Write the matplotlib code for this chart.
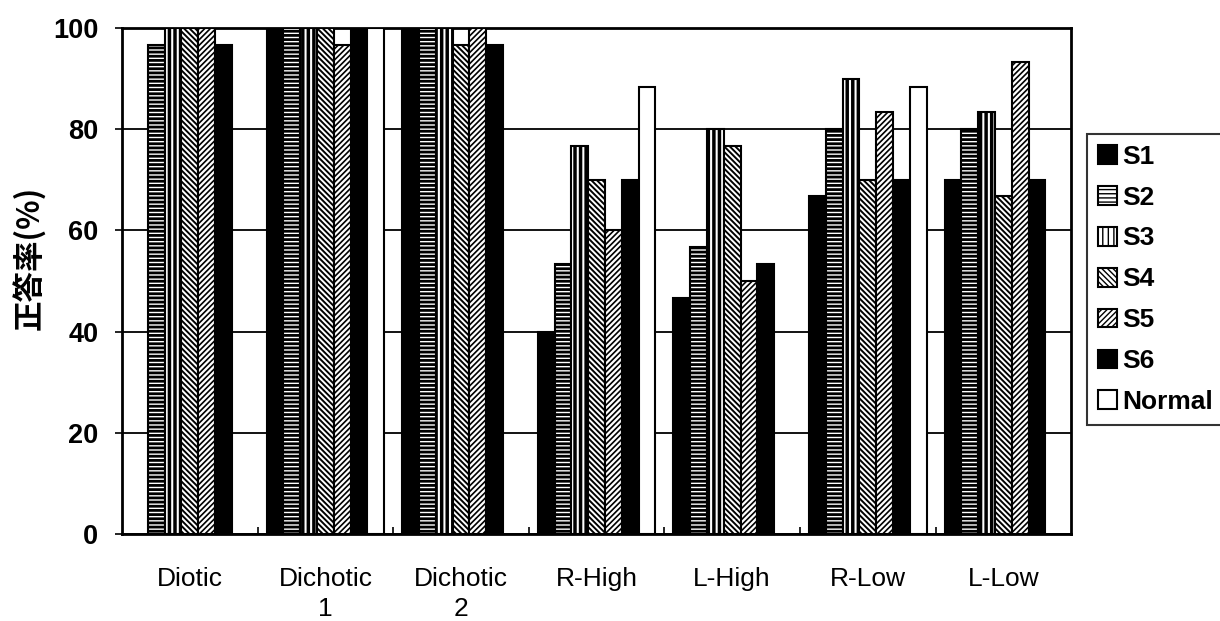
# -*- coding: utf-8 -*-

import numpy as np
import matplotlib
matplotlib.use("Agg")
import matplotlib.pyplot as plt

# correct-answer rate per condition, one list per listener (nan = not tested)
conditions = ["Diotic", "Dichotic\n1", "Dichotic\n2", "R-High", "L-High", "R-Low", "L-Low"]
subjects = ["S1", "S2", "S3", "S4", "S5", "S6", "Normal"]

s1 = [np.nan, 100, 100, 40.0, 46.7, 66.7, 70.0]
s2 = [96.7, 100, 100, 53.3, 56.7, 80.0, 80.0]
s3 = [100, 100, 100, 76.7, 80.0, 90.0, 83.3]
s4 = [100, 100, 96.7, 70.0, 76.7, 70.0, 66.7]
s5 = [100, 96.7, 100, 60.0, 50.0, 83.3, 93.3]
s6 = [96.7, 100, 96.7, 70.0, 53.3, 70.0, 70.0]
normal = [np.nan, 100, np.nan, 88.3, np.nan, 88.3, np.nan]

series = [s1, s2, s3, s4, s5, s6, normal]

# fill / hatch / hatch line width for each subject
styles = [
    ("black", "", 1.0),
    ("white", "----", 2.0),
    ("white", "|||", 2.5),
    ("white", "\\" * 6, 1.4),
    ("white", "/" * 6, 1.2),
    ("black", "", 1.0),
    ("white", "", 1.0),
]

tick_font = ["Liberation Sans", "DejaVu Sans"]
cat_font = ["Liberation Sans", "DejaVu Sans"]

fig = plt.figure(figsize=(12.2, 6.21), dpi=100)
ax = fig.add_axes([0.1, 0.14, 0.778, 0.815])

x = np.arange(len(conditions))
width = 0.124
handles = []
for i, (vals, (face, hatch, hlw)) in enumerate(zip(series, styles)):
    plt.rcParams["hatch.linewidth"] = hlw
    bars = ax.bar(x + (i - 3) * width, vals, width, color=face, edgecolor="black",
                  linewidth=1.5, hatch=hatch, label=subjects[i], zorder=3)
    handles.append(bars)

ax.set_xlim(-0.5, len(conditions) - 0.5)
ax.set_ylim(0, 100)
ax.set_yticks([0, 20, 40, 60, 80, 100])
ax.yaxis.grid(True, color="black", linewidth=1.3, zorder=0)
ax.set_axisbelow(True)

# group separators as small inward ticks, category names centred
ax.set_xticks(x[:-1] + 0.5)
ax.set_xticklabels([])
ax.tick_params(axis="x", which="major", direction="in", length=5, width=1.2)
ax.set_xticks(x, minor=True)
ax.set_xticklabels(conditions, minor=True, fontsize=19, family=cat_font, linespacing=1.3)
ax.tick_params(axis="x", which="minor", length=0, pad=24)

ax.tick_params(axis="y", direction="out", length=5, width=1.2, pad=12)
for lab in ax.get_yticklabels():
    lab.set_fontsize(19.5)
    lab.set_family(tick_font)
    lab.set_fontweight("bold")

for sp in ax.spines.values():
    sp.set_linewidth(2)
    sp.set_color("black")

ax.set_ylabel("正答率(%)", fontsize=22, family=["Noto Sans CJK JP", "DejaVu Sans"],
              fontweight="bold")
ax.yaxis.set_label_coords(-0.08, 0.545)

leg = fig.legend(handles=handles, loc="upper left", bbox_to_anchor=(0.891, 0.784),
                 borderaxespad=0, frameon=True, fancybox=False, edgecolor="black",
                 handlelength=0.72, handleheight=0.72, handletextpad=0.2,
                 labelspacing=0.64, borderpad=0.4,
                 prop={"family": tick_font, "weight": "bold", "size": 19})
leg.get_frame().set_linewidth(1.5)

fig.savefig("out.png", dpi=100, facecolor="white")
